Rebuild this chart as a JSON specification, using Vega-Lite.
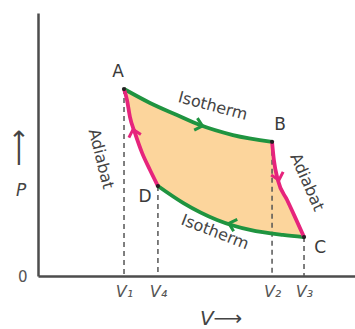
{
  "$schema": "https://vega.github.io/schema/vega-lite/v6.json",
  "width": 317,
  "height": 263,
  "autosize": {"type": "none"},
  "padding": {"left": 38, "top": 13, "right": 0, "bottom": 53},
  "background": "white",
  "config": {"view": {"stroke": null}, "font": "DejaVu Sans"},
  "datasets": {
    "cycle": [
      {"i": 1, "v": 3.256, "p": 7.11}, {"i": 2, "v": 4.24, "p": 6.58}, {"i": 3, "v": 5.26, "p": 6.12},
      {"i": 4, "v": 6.13, "p": 5.74}, {"i": 5, "v": 7.38, "p": 5.36}, {"i": 6, "v": 8.86, "p": 5.10},
      {"i": 7, "v": 8.93, "p": 4.41}, {"i": 8, "v": 9.08, "p": 3.65}, {"i": 9, "v": 9.43, "p": 2.89},
      {"i": 10, "v": 9.73, "p": 2.24}, {"i": 11, "v": 10.07, "p": 1.48},
      {"i": 12, "v": 9.27, "p": 1.56}, {"i": 13, "v": 8.03, "p": 1.75}, {"i": 14, "v": 6.78, "p": 2.13},
      {"i": 15, "v": 5.49, "p": 2.78}, {"i": 16, "v": 4.54, "p": 3.42},
      {"i": 17, "v": 4.24, "p": 4.03}, {"i": 18, "v": 3.94, "p": 4.68}, {"i": 19, "v": 3.67, "p": 5.44},
      {"i": 20, "v": 3.48, "p": 6.05}, {"i": 21, "v": 3.37, "p": 6.69}, {"i": 22, "v": 3.256, "p": 7.11}
    ],
    "curves": [
      {"seg": "AB", "type": "isotherm", "i": 1, "v": 3.256, "p": 7.11},
      {"seg": "AB", "type": "isotherm", "i": 2, "v": 4.24, "p": 6.58},
      {"seg": "AB", "type": "isotherm", "i": 3, "v": 5.26, "p": 6.12},
      {"seg": "AB", "type": "isotherm", "i": 4, "v": 6.13, "p": 5.74},
      {"seg": "AB", "type": "isotherm", "i": 5, "v": 7.38, "p": 5.36},
      {"seg": "AB", "type": "isotherm", "i": 6, "v": 8.86, "p": 5.10},
      {"seg": "DC", "type": "isotherm", "i": 1, "v": 4.54, "p": 3.42},
      {"seg": "DC", "type": "isotherm", "i": 2, "v": 5.49, "p": 2.78},
      {"seg": "DC", "type": "isotherm", "i": 3, "v": 6.78, "p": 2.13},
      {"seg": "DC", "type": "isotherm", "i": 4, "v": 8.03, "p": 1.75},
      {"seg": "DC", "type": "isotherm", "i": 5, "v": 9.27, "p": 1.56},
      {"seg": "DC", "type": "isotherm", "i": 6, "v": 10.07, "p": 1.48},
      {"seg": "BC", "type": "adiabat", "i": 1, "v": 8.86, "p": 5.10},
      {"seg": "BC", "type": "adiabat", "i": 2, "v": 8.93, "p": 4.41},
      {"seg": "BC", "type": "adiabat", "i": 3, "v": 9.08, "p": 3.65},
      {"seg": "BC", "type": "adiabat", "i": 4, "v": 9.43, "p": 2.89},
      {"seg": "BC", "type": "adiabat", "i": 5, "v": 9.73, "p": 2.24},
      {"seg": "BC", "type": "adiabat", "i": 6, "v": 10.07, "p": 1.48},
      {"seg": "AD", "type": "adiabat", "i": 1, "v": 3.256, "p": 7.11},
      {"seg": "AD", "type": "adiabat", "i": 2, "v": 3.37, "p": 6.69},
      {"seg": "AD", "type": "adiabat", "i": 3, "v": 3.48, "p": 6.05},
      {"seg": "AD", "type": "adiabat", "i": 4, "v": 3.67, "p": 5.44},
      {"seg": "AD", "type": "adiabat", "i": 5, "v": 3.94, "p": 4.68},
      {"seg": "AD", "type": "adiabat", "i": 6, "v": 4.24, "p": 4.03},
      {"seg": "AD", "type": "adiabat", "i": 7, "v": 4.54, "p": 3.42}
    ],
    "verts": [
      {"name": "A", "v": 3.256, "p": 7.11},
      {"name": "B", "v": 8.86, "p": 5.10},
      {"name": "C", "v": 10.07, "p": 1.48},
      {"name": "D", "v": 4.54, "p": 3.42}
    ],
    "arrows": [
      {"dir": "AB", "type": "isotherm", "v": 6.15, "p": 5.73},
      {"dir": "BC", "type": "adiabat", "v": 9.1, "p": 3.72},
      {"dir": "CD", "type": "isotherm", "v": 7.3, "p": 1.98},
      {"dir": "DA", "type": "adiabat", "v": 3.62, "p": 5.5}
    ],
    "labels": [
      {"id": "vertex", "text": "A", "v": 3.03, "p": 7.76},
      {"id": "vertex", "text": "B", "v": 9.16, "p": 5.74},
      {"id": "vertex", "text": "C", "v": 10.68, "p": 1.06},
      {"id": "vertex", "text": "D", "v": 4.05, "p": 3.0},
      {"id": "isoTop", "text": "Isotherm", "v": 6.62, "p": 6.46},
      {"id": "isoBot", "text": "Isotherm", "v": 6.70, "p": 1.67},
      {"id": "adiLeft", "text": "Adiabat", "v": 2.38, "p": 4.45},
      {"id": "adiRight", "text": "Adiabat", "v": 10.18, "p": 3.57},
      {"id": "yArrow", "text": "⟶", "v": -0.72, "p": 4.87},
      {"id": "yTitle", "text": "P", "v": -0.64, "p": 3.22},
      {"id": "xTitle", "text": "V⟶", "v": 6.93, "p": -1.62}
    ]
  },
  "encoding": {
    "x": {
      "field": "v", "type": "quantitative",
      "scale": {"domain": [0, 12], "nice": false, "zero": false},
      "axis": {
        "values": [3.256, 4.54, 8.86, 10.07],
        "labelExpr": "datum.value < 4 ? 'V₁' : datum.value < 6 ? 'V₄' : datum.value < 9.5 ? 'V₂' : 'V₃'",
        "title": null, "grid": false, "ticks": false,
        "domainColor": "#4d4d4d", "domainWidth": 2.5,
        "labelFont": "DejaVu Sans", "labelFontStyle": "italic", "labelFontSize": 16,
        "labelColor": "#555555", "labelPadding": 7, "labelOverlap": false, "labelFlush": false
      }
    },
    "y": {
      "field": "p", "type": "quantitative",
      "scale": {"domain": [0, 10], "nice": false, "zero": false},
      "axis": {
        "values": [0], "labelExpr": "'0'", "title": null, "grid": false, "ticks": false,
        "domainColor": "#4d4d4d", "domainWidth": 2.5,
        "labelFont": "DejaVu Sans", "labelFontSize": 15, "labelColor": "#555555",
        "labelPadding": 11, "labelBaseline": "middle"
      }
    }
  },
  "layer": [
    {
      "data": {"name": "cycle"},
      "mark": {"type": "line", "fill": "#fcd59c", "stroke": "transparent", "strokeWidth": 0},
      "encoding": {"order": {"field": "i", "type": "quantitative"}}
    },
    {
      "data": {"name": "verts"},
      "mark": {"type": "rule", "color": "#555555", "strokeWidth": 1.5, "strokeDash": [5, 4]},
      "encoding": {"y2": {"datum": 0}}
    },
    {
      "data": {"name": "curves"},
      "mark": {"type": "line", "strokeWidth": 3.8, "interpolate": "monotone"},
      "encoding": {
        "color": {"field": "type", "type": "nominal", "scale": {"domain": ["isotherm", "adiabat"], "range": ["#1f9440", "#e6247c"]}, "legend": null},
        "detail": {"field": "seg"},
        "order": {"field": "i", "type": "quantitative"}
      }
    },
    {
      "data": {"name": "arrows"},
      "transform": [{"filter": "datum.dir == 'AB'"}],
      "mark": {"type": "point", "shape": "M-0.7,-0.9L0.3,0L-0.7,0.9", "filled": false, "strokeWidth": 3, "size": 190, "angle": 15, "color": "#1f9440", "opacity": 1}
    },
    {
      "data": {"name": "arrows"},
      "transform": [{"filter": "datum.dir == 'BC'"}],
      "mark": {"type": "point", "shape": "M-0.7,-0.9L0.3,0L-0.7,0.9", "filled": false, "strokeWidth": 3, "size": 190, "angle": 75, "color": "#e6247c", "opacity": 1}
    },
    {
      "data": {"name": "arrows"},
      "transform": [{"filter": "datum.dir == 'CD'"}],
      "mark": {"type": "point", "shape": "M-0.7,-0.9L0.3,0L-0.7,0.9", "filled": false, "strokeWidth": 3, "size": 190, "angle": 197, "color": "#1f9440", "opacity": 1}
    },
    {
      "data": {"name": "arrows"},
      "transform": [{"filter": "datum.dir == 'DA'"}],
      "mark": {"type": "point", "shape": "M-0.7,-0.9L0.3,0L-0.7,0.9", "filled": false, "strokeWidth": 3, "size": 190, "angle": 255, "color": "#e6247c", "opacity": 1}
    },
    {
      "data": {"name": "verts"},
      "mark": {"type": "point", "filled": true, "color": "#222222", "size": 18, "opacity": 1}
    },
    {
      "data": {"name": "labels"},
      "transform": [{"filter": "datum.id == 'vertex'"}],
      "mark": {"type": "text", "fontSize": 17, "color": "#3a3a3a", "font": "DejaVu Sans"},
      "encoding": {"text": {"field": "text"}}
    },
    {
      "data": {"name": "labels"},
      "transform": [{"filter": "datum.id == 'isoTop'"}],
      "mark": {"type": "text", "fontSize": 16, "color": "#444444", "angle": 15, "font": "DejaVu Sans"},
      "encoding": {"text": {"field": "text"}}
    },
    {
      "data": {"name": "labels"},
      "transform": [{"filter": "datum.id == 'isoBot'"}],
      "mark": {"type": "text", "fontSize": 16, "color": "#444444", "angle": 21, "font": "DejaVu Sans"},
      "encoding": {"text": {"field": "text"}}
    },
    {
      "data": {"name": "labels"},
      "transform": [{"filter": "datum.id == 'adiLeft'"}],
      "mark": {"type": "text", "fontSize": 16, "color": "#444444", "angle": 76, "font": "DejaVu Sans"},
      "encoding": {"text": {"field": "text"}}
    },
    {
      "data": {"name": "labels"},
      "transform": [{"filter": "datum.id == 'adiRight'"}],
      "mark": {"type": "text", "fontSize": 16, "color": "#444444", "angle": 66, "font": "DejaVu Sans"},
      "encoding": {"text": {"field": "text"}}
    },
    {
      "data": {"name": "labels"},
      "transform": [{"filter": "datum.id == 'yArrow'"}],
      "mark": {"type": "text", "fontSize": 26, "color": "#444444", "angle": 270, "font": "DejaVu Sans"},
      "encoding": {"text": {"field": "text"}}
    },
    {
      "data": {"name": "labels"},
      "transform": [{"filter": "datum.id == 'yTitle'"}],
      "mark": {"type": "text", "fontSize": 17, "color": "#444444", "fontStyle": "italic", "font": "DejaVu Sans"},
      "encoding": {"text": {"field": "text"}}
    },
    {
      "data": {"name": "labels"},
      "transform": [{"filter": "datum.id == 'xTitle'"}],
      "mark": {"type": "text", "fontSize": 20, "color": "#444444", "fontStyle": "italic", "font": "DejaVu Sans"},
      "encoding": {"text": {"field": "text"}}
    }
  ]
}
